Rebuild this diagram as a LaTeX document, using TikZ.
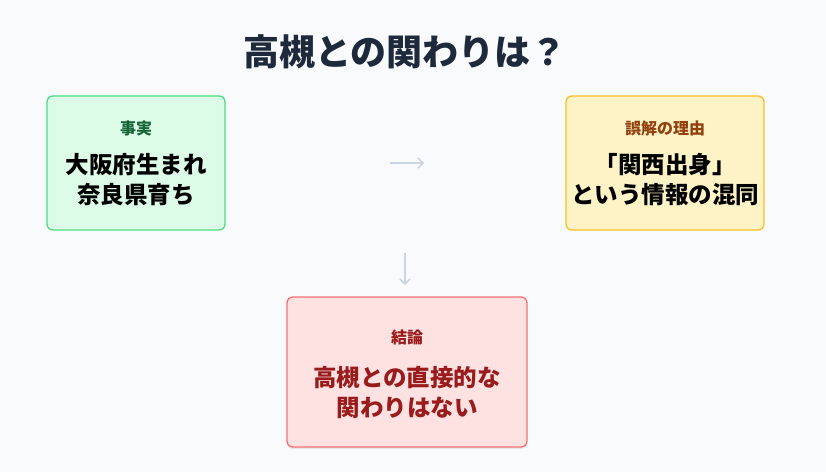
\documentclass[tikz,border=0pt]{standalone}
\usepackage{fontspec}
\setmainfont{Noto Sans CJK JP}
\usetikzlibrary{arrows.meta,shadows}
\definecolor{bg}{HTML}{F8FAFC}
\definecolor{gf}{HTML}{DCFCE7}\definecolor{gd}{HTML}{4ADE80}\definecolor{gt}{HTML}{166534}
\definecolor{yf}{HTML}{FEF3C7}\definecolor{yd}{HTML}{FBBF24}\definecolor{yt}{HTML}{92400E}
\definecolor{rf}{HTML}{FEE2E2}\definecolor{rd}{HTML}{F87171}\definecolor{rt}{HTML}{991B1B}
\definecolor{ar}{HTML}{CBD5E1}\definecolor{tt}{HTML}{1E293B}
\begin{document}
\begin{tikzpicture}[x=1pt,y=-1pt,
 card/.style={rounded corners=6pt,line width=1.3pt},
 lab/.style={font=\bfseries\fontsize{16}{18}\selectfont},
 body/.style={font=\bfseries\fontsize{23.5}{30}\selectfont,align=center},
 conn/.style={ar,line width=1.5pt,-{Straight Barb[length=5pt,width=10pt]}}]
\fill[bg] (0,0) rectangle (826,472);
\node[font=\bfseries\fontsize{36}{40}\selectfont,text=tt] (title) at (405,52) {高槻との関わりは？};
\draw[card,fill=gf,draw=gd] (47,96) rectangle (225,230);
\node[lab,text=gt] (l1) at (136,128) {事実};
\node[body] (b1) at (136,180) {大阪府生まれ\\奈良県育ち};
\draw[card,fill=yf,draw=yd] (566,96) rectangle (764,230);
\node[lab,text=yt] (l2) at (665,128) {誤解の理由};
\node[body] (b2) at (665,180) {「関西出身」\\という情報の混同};
\draw[card,fill=rf,draw=rd,drop shadow={opacity=0.15,shadow xshift=0pt,shadow yshift=-2pt}] (287,297) rectangle (527,447);
\node[lab,text=rt] (l3) at (407,337) {結論};
\node[body,text=rt] (b3) at (407,393) {高槻との直接的な\\関わりはない};
\coordinate (a1s) at (390,163); \coordinate (a1e) at (424,163);
\coordinate (a2s) at (405,253); \coordinate (a2e) at (405,285);
\draw[conn] (a1s) -- (a1e);
\draw[conn] (a2s) -- (a2e);
\end{tikzpicture}
\end{document}
